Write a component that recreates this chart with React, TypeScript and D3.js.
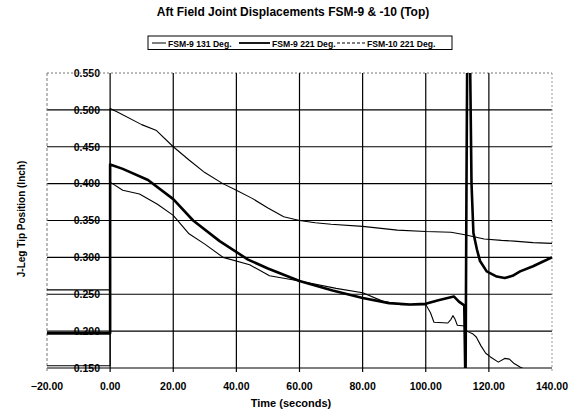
import React from "react";
import * as d3 from "d3";

const xTicks = [-20, 0, 20, 40, 60, 80, 100, 120, 140];
const yTicks = [0.15, 0.2, 0.25, 0.3, 0.35, 0.4, 0.45, 0.5, 0.55];
const seriesNames = ["FSM-9 131 Deg.", "FSM-9 221 Deg.", "FSM-10 221 Deg."];

const fsm9_131_t = [-20, 0, 0, 4, 9.3, 15, 20, 25, 30, 35.8, 44.2, 50.5, 60, 71.6, 80, 86.7, 92, 97.4, 100, 101.5, 102.6, 107, 108, 108.6, 109.3, 110, 112.3, 113, 115, 116, 117.5, 119, 120.5, 123, 125, 126.5, 128, 130, 131.5];
const fsm9_131_v = [0.153, 0.153, 0.402, 0.391, 0.386, 0.372, 0.357, 0.332, 0.318, 0.3, 0.29, 0.275, 0.268, 0.258, 0.252, 0.24, 0.236, 0.236, 0.236, 0.225, 0.212, 0.211, 0.216, 0.221, 0.216, 0.208, 0.207, 0.2, 0.196, 0.192, 0.18, 0.17, 0.165, 0.158, 0.163, 0.162, 0.156, 0.151, 0.148];

const fsm9_221_t = [-20, 0, 0, 4, 12, 20, 26.3, 34.7, 43.7, 50, 60, 70.5, 80, 88.4, 95, 100, 104, 108.9, 110.5, 112.2, 112.6, 112.9, 113.2, 113.9, 114.5, 115.1, 116.2, 117.2, 119.3, 122.5, 125, 127.5, 129.9, 134, 137, 140];
const fsm9_221_v = [0.197, 0.197, 0.426, 0.42, 0.405, 0.379, 0.35, 0.322, 0.297, 0.285, 0.268, 0.255, 0.245, 0.238, 0.236, 0.237, 0.242, 0.247, 0.24, 0.235, 0.12, 0.393, 0.62, 0.62, 0.4, 0.333, 0.311, 0.295, 0.281, 0.274, 0.272, 0.275, 0.281, 0.288, 0.294, 0.3];

const fsm10_221_t = [-20, 0, 0, 2.3, 10, 14.7, 20, 25, 30, 35.7, 40, 45, 50, 55, 60, 65, 70, 80, 91, 100, 108, 112, 118.5, 124, 128, 134, 140];
const fsm10_221_v = [0.256, 0.256, 0.502, 0.497, 0.48, 0.472, 0.45, 0.432, 0.415, 0.4, 0.391, 0.38, 0.367, 0.355, 0.35, 0.347, 0.345, 0.342, 0.337, 0.335, 0.334, 0.331, 0.325, 0.323, 0.322, 0.32, 0.319];

const FONT = "'Liberation Sans', Arial, Helvetica, sans-serif";

export default function App() {
  const left = 47, right = 552, top = 73, bottom = 368;
  const x = d3.scaleLinear().domain([-20, 140]).range([left, right]);
  const y = d3.scaleLinear().domain([0.15, 0.55]).range([bottom, top]);
  const line = d3.line<[number, number]>().x(d => x(d[0])).y(d => y(d[1]));
  const mk = (t: number[], v: number[]) => line(t.map((tt, i) => [tt, v[i]] as [number, number])) || "";

  const series = [
    { name: seriesNames[0], d: mk(fsm9_131_t, fsm9_131_v), w: 1.1 },
    { name: seriesNames[1], d: mk(fsm9_221_t, fsm9_221_v), w: 2.6 },
    { name: seriesNames[2], d: mk(fsm10_221_t, fsm10_221_v), w: 1.1 },
  ];

  const legendX = 148, legendY = 36;
  const legendItems = [
    { x0: 152, x1: 166, tx: 168, w: 1, dash: undefined as string | undefined },
    { x0: 239, x1: 270, tx: 272, w: 1.8, dash: undefined },
    { x0: 337, x1: 365, tx: 367, w: 1, dash: "3,2" },
  ];

  return (
    <svg width={572} height={412} style={{ position: "absolute", left: 0, top: 0, background: "#fff" }} fontFamily={FONT}>
      <rect x={0} y={0} width={572} height={412} fill="#fff" />
      <text x={293} y={16} textAnchor="middle" fontSize={12} fontWeight="bold" fill="#000">
        Aft Field Joint Displacements FSM-9 &amp; -10 (Top)
      </text>

      {/* legend */}
      <rect x={legendX} y={legendY} width={304} height={13.5} fill="#fff" stroke="#000" strokeWidth={1} />
      {legendItems.map((it, i) => (
        <g key={i}>
          <line x1={it.x0} x2={it.x1} y1={43} y2={43} stroke="#000" strokeWidth={it.w} strokeDasharray={it.dash} />
          <text x={it.tx} y={46.5} fontSize={8.6} fontWeight="bold" fill="#000">{seriesNames[i]}</text>
        </g>
      ))}

      {/* y tick labels */}
      {yTicks.map(v => (
        <text key={"yl" + v} x={100} y={y(v) + 3.8} textAnchor="end" fontSize={10.5} fontWeight="bold" fill="#000">
          {d3.format(".3f")(v)}
        </text>
      ))}

      {/* horizontal gridlines */}
      {yTicks.map(v => (
        v === 0.55 ? (
          <line key={"h" + v} x1={left} x2={right} y1={y(v)} y2={y(v)} stroke="#777" strokeWidth={1} strokeDasharray="2,2" />
        ) : (
          <line key={"h" + v} x1={left} x2={right} y1={y(v)} y2={y(v)} stroke="#000" strokeWidth={1.1} />
        )
      ))}

      {/* vertical gridlines */}
      {xTicks.map(v => {
        if (v === -20) return <line key={"v" + v} x1={x(v)} x2={x(v)} y1={top} y2={bottom + 4} stroke="#777" strokeWidth={1} strokeDasharray="3,2" />;
        if (v === 140) return <line key={"v" + v} x1={x(v)} x2={x(v)} y1={top} y2={bottom + 4} stroke="#999" strokeWidth={1} strokeDasharray="2,2" />;
        return <line key={"v" + v} x1={x(v)} x2={x(v)} y1={top} y2={bottom + 4} stroke="#000" strokeWidth={1.2} />;
      })}

      {/* x tick labels */}
      {xTicks.map(v => (
        <text key={"xl" + v} x={x(v)} y={390} textAnchor="middle" fontSize={10.5} fontWeight="bold" fill="#000">
          {d3.format(".2f")(v)}
        </text>
      ))}

      <text x={291} y={407} textAnchor="middle" fontSize={11} fontWeight="bold" fill="#000">Time (seconds)</text>
      <text transform={`translate(25,219) rotate(-90)`} textAnchor="middle" fontSize={10} fontWeight="bold" fill="#000">
        J-Leg Tip Position (Inch)
      </text>

      <defs>
        <clipPath id="plotClip">
          <rect x={left} y={top} width={right - left + 1} height={bottom - top} />
        </clipPath>
      </defs>
      <g clipPath="url(#plotClip)">
        {series.map((s, i) => (
          <path key={i} d={s.d} fill="none" stroke="#000" strokeWidth={s.w} strokeLinejoin="round" />
        ))}
      </g>
    </svg>
  );
}
